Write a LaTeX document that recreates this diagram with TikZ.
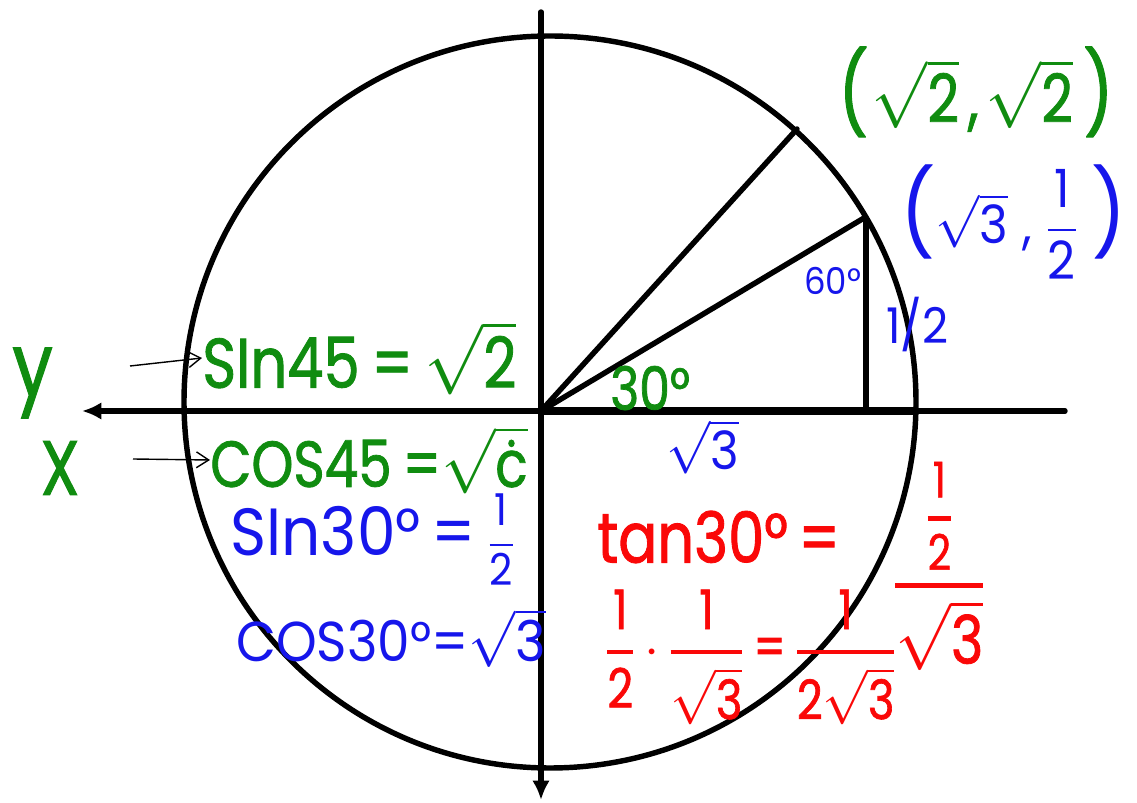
\RequirePackage{fix-cm}
\documentclass[tikz,border=0pt]{standalone}
\usepackage{amsmath}
\usepackage{fontspec}
\setmainfont{Poppins}
\newfontfamily\penthick{Poppins}[FakeStretch=0.82,FakeBold=1.2]
\newfontfamily\penthin{Poppins}[FakeStretch=0.92]
\usetikzlibrary{arrows.meta,positioning}
\definecolor{handgreen}{RGB}{16,140,16}
\definecolor{handblue}{RGB}{22,22,235}
\definecolor{handred}{RGB}{250,8,8}
\newcommand\fsz[1]{\fontsize{#1}{#1}\selectfont}
\newcommand\rt[1]{$\sqrt{\mbox{#1}}$}
\newcommand\fr[3][1.5pt]{$\genfrac{}{}{#1}{0}{\mbox{#2}}{\mbox{#3}}$}
\tikzset{
greentext/.style={
  text=handgreen,
  inner sep=0pt,
  anchor=west
},
bluetext/.style={
  text=handblue,
  inner sep=0pt,
  anchor=west
},
redtext/.style={
  text=handred,
  inner sep=0pt,
  anchor=west
},
axis/.style={
  line width=3.1pt,
  line cap=round,
  -{Latex[length=11pt,width=10pt]}
},
penline/.style={
  line width=3.1pt,
  line cap=round
},
handarrow/.style={
  line width=0.8pt,
  -{Straight Barb[length=7pt,width=9pt]}
}
}

\begin{document}
\begin{tikzpicture}[x=0.02cm,y=-0.02cm]
  \useasboundingbox (0,0) rectangle (1137,803);

  % points of the unit circle
  \coordinate (O) at (541,411);
  \coordinate (P45) at (797,129);
  \coordinate (P30) at (864,218);
  \coordinate (F30) at (866,411);
  \coordinate (R0) at (918,411);

  % axes and circle
  \draw[axis] (541,12) -- (541,800);
  \draw[axis] (1065,411) -- (82,411);
  \draw[penline] (550,402) circle[radius=366];

  % triangle
  \draw[line width=4.8pt] (O) -- (R0);
  \draw[penline] (O) -- (P45);
  \draw[penline] (O) -- (P30);
  \draw[penline] (866,218) -- (F30);

  % green labels
  \node[greentext, font=\fsz{38}\penthick] (pt45) at (838,92) {{\fsz{46}(}\hspace{2pt}\rt{2}\hspace{5pt},\hspace{4pt}\rt{2}\hspace{6pt}{\fsz{46})}};
  \node[greentext, font=\fsz{34}\penthick] (ang30) at (610,388) {30°};
  \node[greentext, font=\fsz{50}\penthick] (ylab) at (12,383) {y};
  \node[greentext, font=\fsz{44}\penthick] (xlab) at (40,468) {X};
  \node[greentext, font=\fsz{40}\penthick] (sin45) at (202,358) {SIn45\,=\,\rt{2}};
  \node[greentext, font=\fsz{37}\penthick] (cos45) at (210,460) {COS45\,=\rt{ċ}};

  % blue labels
  \node[bluetext, font=\fsz{30}\penthin] (pt30) at (900,222) {{\fsz{48}(}\rt{3}\hspace{8pt},\hspace{8pt}{\fsz{30}\fr[1pt]{1}{2}}\hspace{8pt}{\fsz{48})}};
  \node[bluetext, font=\fsz{21}\penthin] (ang60) at (804,281) {60°};
  \node[bluetext, font=\fsz{28}\penthin] (half) at (886,325) {1/2};
  \node[bluetext, font=\fsz{30}\penthin] (root3) at (666,447) {\rt{3}};
  \node[bluetext, font=\fsz{38}\penthin] (sin30) at (230,540) {SIn30°\,=\,{\fsz{25}\fr[1pt]{1}{2}}};
  \node[bluetext, font=\fsz{32}\penthin] (cos30) at (236,638) {COS30°=\rt{3}};

  % red working
  \node[redtext, font=\fsz{40}\penthick] (tan30) at (597,537) {tan30°\hspace{6pt}=};
  \node[redtext, font=\fsz{34}\penthick] (tanfrac) at (893,566) {\fr[2.5pt]{\fsz{28}\fr[2.5pt]{1}{2}}{\fsz{38}\rt{3}}};
  \node[redtext, font=\fsz{31}\penthick] (product) at (605,657) {\fr[2.5pt]{1}{2}\,$\cdot$\,\fr[2.5pt]{1}{\rt{3}}\,=\,\fr[2.5pt]{1}{2\rt{3}}};

  % pointers
  \coordinate (sinfrom) at (130,366);
  \coordinate (cosfrom) at (133,459);
  \draw[handarrow] (sinfrom) -- (sin45.west);
  \draw[handarrow] (cosfrom) -- (cos45.west);
\end{tikzpicture}
\end{document}
